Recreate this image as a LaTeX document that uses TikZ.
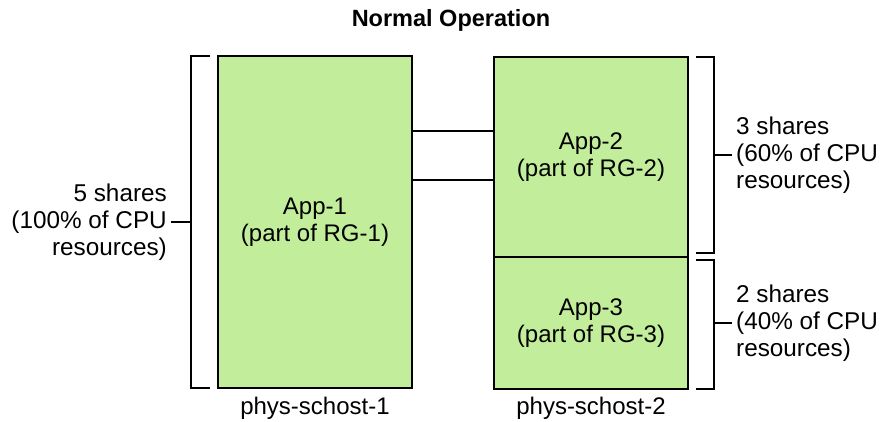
\documentclass[tikz,border=0pt]{standalone}
\usepackage{fontspec}
\setmainfont{Liberation Sans}
\usetikzlibrary{positioning}
\definecolor{appgreen}{HTML}{C2EE9C}

\begin{document}
\begin{tikzpicture}[x=1pt,y=-1pt,
  app/.style={draw,line width=2.4pt,fill=appgreen,minimum width=194pt,inner sep=0pt,align=center,font=\fontsize{24}{27}\selectfont},
  brk/.style={line width=1.8pt},
  lbl/.style={align=left,font=\fontsize{24.3}{27}\selectfont,inner sep=4pt}]
\useasboundingbox (0,0) rectangle (885,422);

\node[font=\bfseries\fontsize{23.5}{27}\selectfont] (title) at (451,20) {Normal Operation};%le titre

\node[app,minimum height=332pt] (app1) at (315,222) {App-1\\(part of RG-1)};
\node[app,minimum height=200pt] (app2) at (591,157) {App-2\\(part of RG-2)};
\node[app,minimum height=132pt] (app3) at (591,323) {App-3\\(part of RG-3)};

\draw[brk] (app1.east |- 0,131) -- (app2.west |- 0,131);%les liens
\draw[brk] (app1.east |- 0,180) -- (app2.west |- 0,180);

\node[font=\fontsize{24}{27}\selectfont] (host1) at (315,408) {phys-schost-1};
\node[font=\fontsize{24}{27}\selectfont] (host2) at (591,408) {phys-schost-2};

% accolade gauche
\draw[brk] (210,56) -- (191,56) -- (191,388) -- (210,388);
\node[lbl,align=right,anchor=east] (share1) at (171,222) {5 shares\\(100\% of CPU\\resources)};
\draw[brk] (191,222) -- (share1.east);

% accolades droites
\draw[brk] (696,57) -- (714,57) -- (714,253) -- (696,253);
\node[lbl,anchor=west] (share2) at (732,155) {3 shares\\(60\% of CPU\\resources)};
\draw[brk] (714,155) -- (share2.west);

\draw[brk] (696,260) -- (714,260) -- (714,389) -- (696,389);
\node[lbl,anchor=west] (share3) at (732,323) {2 shares\\(40\% of CPU\\resources)};
\draw[brk] (714,323) -- (share3.west);
\end{tikzpicture}
\end{document}
